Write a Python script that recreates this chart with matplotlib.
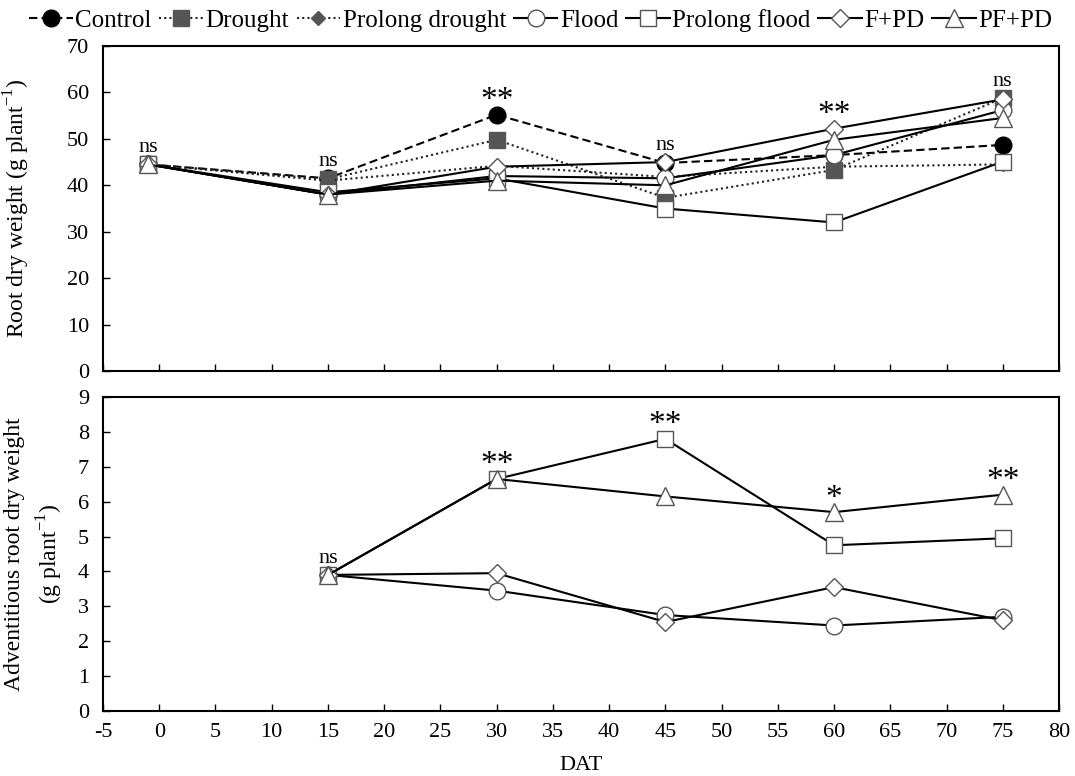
import matplotlib
matplotlib.use("Agg")
import matplotlib.pyplot as plt
import numpy as np

plt.rcParams['font.family'] = ['Liberation Serif', 'DejaVu Serif']
plt.rcParams['mathtext.fontset'] = 'custom'
plt.rcParams['mathtext.rm'] = 'Liberation Serif'

# Sampling days (days after treatment)
dat_root = [-1, 15, 30, 45, 60, 75]
dat_adv = [15, 30, 45, 60, 75]

# Root dry weight (g plant-1)
root_control = [44.5, 41.5, 55.2, 44.8, 46.5, 48.7]
root_drought = [44.5, 41.3, 49.8, 37.3, 43.3, 58.8]
root_prolong_drought = [44.5, 41.0, 44.2, 41.8, 44.0, 44.5]
root_flood = [44.5, 38.0, 42.0, 41.5, 46.5, 56.2]
root_prolong_flood = [44.5, 38.5, 41.5, 35.0, 32.0, 45.1]
root_fpd = [44.5, 38.0, 44.0, 45.0, 52.2, 58.5]
root_pfpd = [44.5, 38.0, 41.0, 40.0, 49.8, 54.5]

# Adventitious root dry weight (g plant-1)
adv_flood = [3.9, 3.45, 2.75, 2.45, 2.7]
adv_prolong_flood = [3.9, 6.65, 7.8, 4.75, 4.95]
adv_fpd = [3.9, 3.95, 2.55, 3.55, 2.6]
adv_pfpd = [3.9, 6.65, 6.15, 5.7, 6.2]

# Significance labels
sig_root = ['ns', 'ns', '**', 'ns', '**', 'ns']
sig_adv = ['ns', '**', '**', '*', '**']

gray = '#555555'
styles = {
    'Control': dict(marker='o', ls=(0, (4, 2)), color='black', mfc='black', mec='black', ms=12),
    'Drought': dict(marker='s', ls=(0, (1, 1.5)), color='#222222', mfc=gray, mec=gray, ms=11),
    'Prolong drought': dict(marker='D', ls=(0, (1, 1.5)), color='#222222', mfc=gray, mec=gray, ms=7),
    'Flood': dict(marker='o', ls='-', color='black', mfc='white', mec='#555555', ms=12),
    'Prolong flood': dict(marker='s', ls='-', color='black', mfc='white', mec='#555555', ms=12),
    'F+PD': dict(marker='D', ls='-', color='black', mfc='white', mec='#555555', ms=9),
    'PF+PD': dict(marker='^', ls='-', color='black', mfc='white', mec='#555555', ms=13),
}

fig = plt.figure(figsize=(10.75, 7.76), dpi=100)
ax1 = fig.add_axes([0.0958, 0.5219, 0.8893, 0.4188])
ax2 = fig.add_axes([0.0958, 0.0838, 0.8893, 0.4046])

root_series = [
    ('Control', root_control), ('Drought', root_drought),
    ('Prolong drought', root_prolong_drought), ('Flood', root_flood),
    ('Prolong flood', root_prolong_flood), ('F+PD', root_fpd), ('PF+PD', root_pfpd),
]
handles = []
for name, vals in root_series:
    st = styles[name]
    h, = ax1.plot(dat_root, vals, linestyle=st['ls'], color=st['color'], lw=1.5,
                  marker=st['marker'], ms=st['ms'], mfc=st['mfc'], mec=st['mec'],
                  mew=1.0, label=name)
    handles.append(h)

adv_series = [
    ('Flood', adv_flood), ('Prolong flood', adv_prolong_flood),
    ('F+PD', adv_fpd), ('PF+PD', adv_pfpd),
]
for name, vals in adv_series:
    st = styles[name]
    ax2.plot(dat_adv, vals, linestyle=st['ls'], color=st['color'], lw=1.5,
             marker=st['marker'], ms=st['ms'], mfc=st['mfc'], mec=st['mec'], mew=1.0)


def mark_significance(ax, xs, labels, series_list):
    """Place the significance label just above the highest point of each date."""
    for i, (x, s) in enumerate(zip(xs, labels)):
        top = max(vals[i] for vals in series_list)
        if '*' in s:
            ax.annotate(s, (x, top), xytext=(0, -1), textcoords='offset points',
                        ha='center', va='bottom', fontsize=24)
        else:
            ax.annotate(s, (x, top), xytext=(0, 5), textcoords='offset points',
                        ha='center', va='bottom', fontsize=16)


for ax in (ax1, ax2):
    ax.set_xlim(-5, 80)
    ax.set_xticks(np.arange(-5, 81, 5))
    ax.tick_params(direction='in', length=5, width=1, labelsize=16)
    ax.tick_params(axis='y', pad=10)
    ax.tick_params(axis='x', pad=9)
    for sp in ax.spines.values():
        sp.set_linewidth(1.5)

ax1.set_ylim(0, 70)
ax1.set_yticks(np.arange(0, 71, 10))
ax1.tick_params(axis='x', labelbottom=False)
ax2.set_ylim(0, 9)
ax2.set_yticks(np.arange(0, 10, 1))
ax2.set_xticklabels([str(v) for v in range(-5, 81, 5)])

mark_significance(ax1, dat_root, sig_root, [vals for _, vals in root_series])
mark_significance(ax2, dat_adv, sig_adv, [vals for _, vals in adv_series])

ax1.set_ylabel('Root dry weight (g plant$^{-1}$)', fontsize=17)
ax1.yaxis.set_label_coords(-0.074, 0.5)
ax2.set_ylabel('Adventitious root dry weight\n(g plant$^{-1}$)', fontsize=17,
               linespacing=1.4)
ax2.yaxis.set_label_coords(-0.040, 0.5)
ax2.set_xlabel('DAT', fontsize=16, labelpad=10)

fig.legend(handles=handles, loc='upper center', bbox_to_anchor=(0.503, 1.008), ncol=7,
           frameon=False, fontsize=18, handlelength=1.75, handletextpad=0.1,
           columnspacing=0.3, borderaxespad=0.2)

fig.savefig('out.png', dpi=100)
